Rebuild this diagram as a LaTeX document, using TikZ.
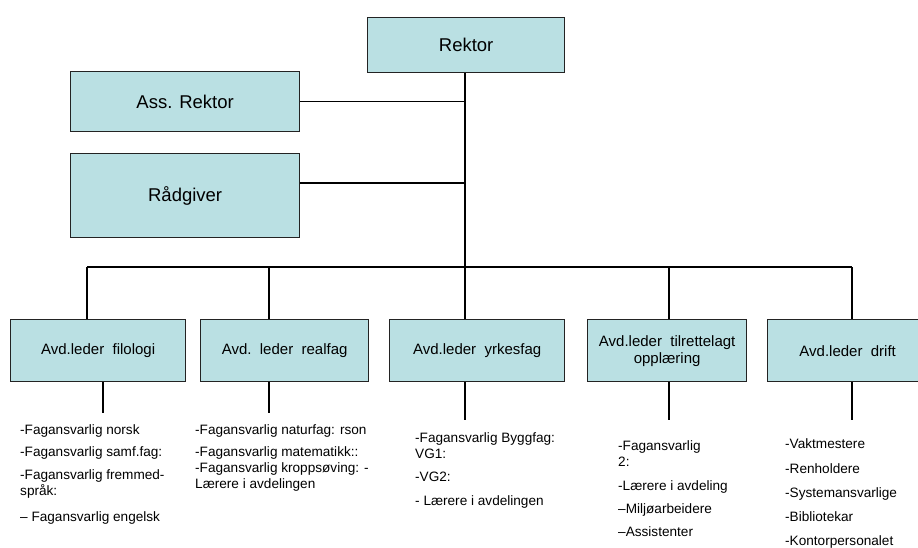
\documentclass[tikz,border=0pt]{standalone}
\usepackage{fontspec}
\setmainfont{Liberation Sans}
\definecolor{boxfill}{RGB}{186,224,227}
\definecolor{boxline}{RGB}{35,35,35}
\begin{document}
\begin{tikzpicture}[x=1pt,y=-1pt,
  orgbox/.style={draw=boxline,line width=1.3pt,fill=boxfill,rectangle,inner sep=0pt,anchor=north west},
  conn/.style={draw=black,line width=1.1pt},
  listtext/.style={anchor=north west,inner sep=0pt,align=left,font=\fontsize{13.6}{16}\selectfont}]
\useasboundingbox (0,0) rectangle (918,547);
\fill[white] (0,0) rectangle (918,547);
% top boxes
\node[orgbox,minimum width=197pt,minimum height=55pt,font=\fontsize{18.5}{20}\selectfont] (rektor) at (367,17) {Rektor};
\node[orgbox,minimum width=229pt,minimum height=60pt,font=\fontsize{18.5}{20}\selectfont] (ass) at (70,71) {Ass. Rektor};
\node[orgbox,minimum width=229pt,minimum height=84pt,font=\fontsize{18.5}{20}\selectfont] (rad) at (70,153) {Rådgiver};
% bottom boxes
\tikzset{avd/.style={orgbox,minimum height=62pt,align=center,font=\fontsize{15}{17}\selectfont}}
\node[avd,minimum width=175pt] (b1) at (10,319) {Avd.leder\ \ filologi};
\node[avd,minimum width=168pt] (b2) at (200,319) {Avd.\ \ leder\ \ realfag};
\node[avd,minimum width=175pt] (b3) at (389,319) {Avd.leder\ \ yrkesfag};
\node[avd,minimum width=159pt] (b4) at (587,319) {Avd.leder\ \ tilrettelagt\\opplæring};
\node[avd,minimum width=160pt] (b5) at (767,319) {Avd.leder\ \ drift};
% hierarchy lines
\coordinate (bar) at (465,267);
\coordinate (barL) at (87,267);
\coordinate (barR) at (852,267);
\draw[conn] (rektor.south -| bar) -- (bar);
\draw[conn] (ass.east) -- (ass.east -| bar);
\draw[conn] (ass.east |- 0,183) -- (bar |- 0,183);
\draw[conn] (barL) -- (barR);
\draw[conn] (barL) -- (barL |- b1.north);
\draw[conn] (269,267) -- (b2.north -| 269,0);
\draw[conn] (bar) -- (b3.north -| bar);
\draw[conn] (669,267) -- (b4.north -| 669,0);
\draw[conn] (barR) -- (barR |- b5.north);
% lines below
\coordinate (e1) at (103,413);
\coordinate (e2) at (269,413);
\coordinate (e3) at (465,420);
\coordinate (e4) at (669,420);
\coordinate (e5) at (852,420);
\draw[conn] (b1.south -| e1) -- (e1);
\draw[conn] (b2.south -| e2) -- (e2);
\draw[conn] (b3.south -| e3) -- (e3);
\draw[conn] (b4.south -| e4) -- (e4);
\draw[conn] (b5.south -| e5) -- (e5);
% lists
\node[listtext] (l1a) at (20,424) {-Fagansvarlig norsk};
\node[listtext] (l1b) at (20,446) {-Fagansvarlig samf.fag:};
\node[listtext] (l1c) at (20,469) {-Fagansvarlig fremmed-\\språk:};
\node[listtext] (l1d) at (20,511) {– Fagansvarlig engelsk};
\node[listtext] (l2a) at (195,424) {-Fagansvarlig naturfag: rson};
\node[listtext] (l2b) at (195,446) {-Fagansvarlig matematikk::\\-Fagansvarlig kroppsøving: -\\Lærere i avdelingen};
\node[listtext] (l3a) at (415,432) {-Fagansvarlig Byggfag:\\VG1:};
\node[listtext] (l3b) at (415,472) {-VG2:};
\node[listtext] (l3c) at (415,495) {- Lærere i avdelingen};
\node[listtext] (l4a) at (618,440) {-Fagansvarlig\\2:};
\node[listtext] (l4b) at (618,480) {-Lærere i avdeling};
\node[listtext] (l4c) at (618,503) {–Miljøarbeidere};
\node[listtext] (l4d) at (618,526) {–Assistenter};
\node[listtext] (l5a) at (785,438) {-Vaktmestere};
\node[listtext] (l5b) at (785,463) {-Renholdere};
\node[listtext] (l5c) at (785,487) {-Systemansvarlige};
\node[listtext] (l5d) at (785,511) {-Bibliotekar};
\node[listtext] (l5e) at (785,535) {-Kontorpersonalet};
\end{tikzpicture}
\end{document}
